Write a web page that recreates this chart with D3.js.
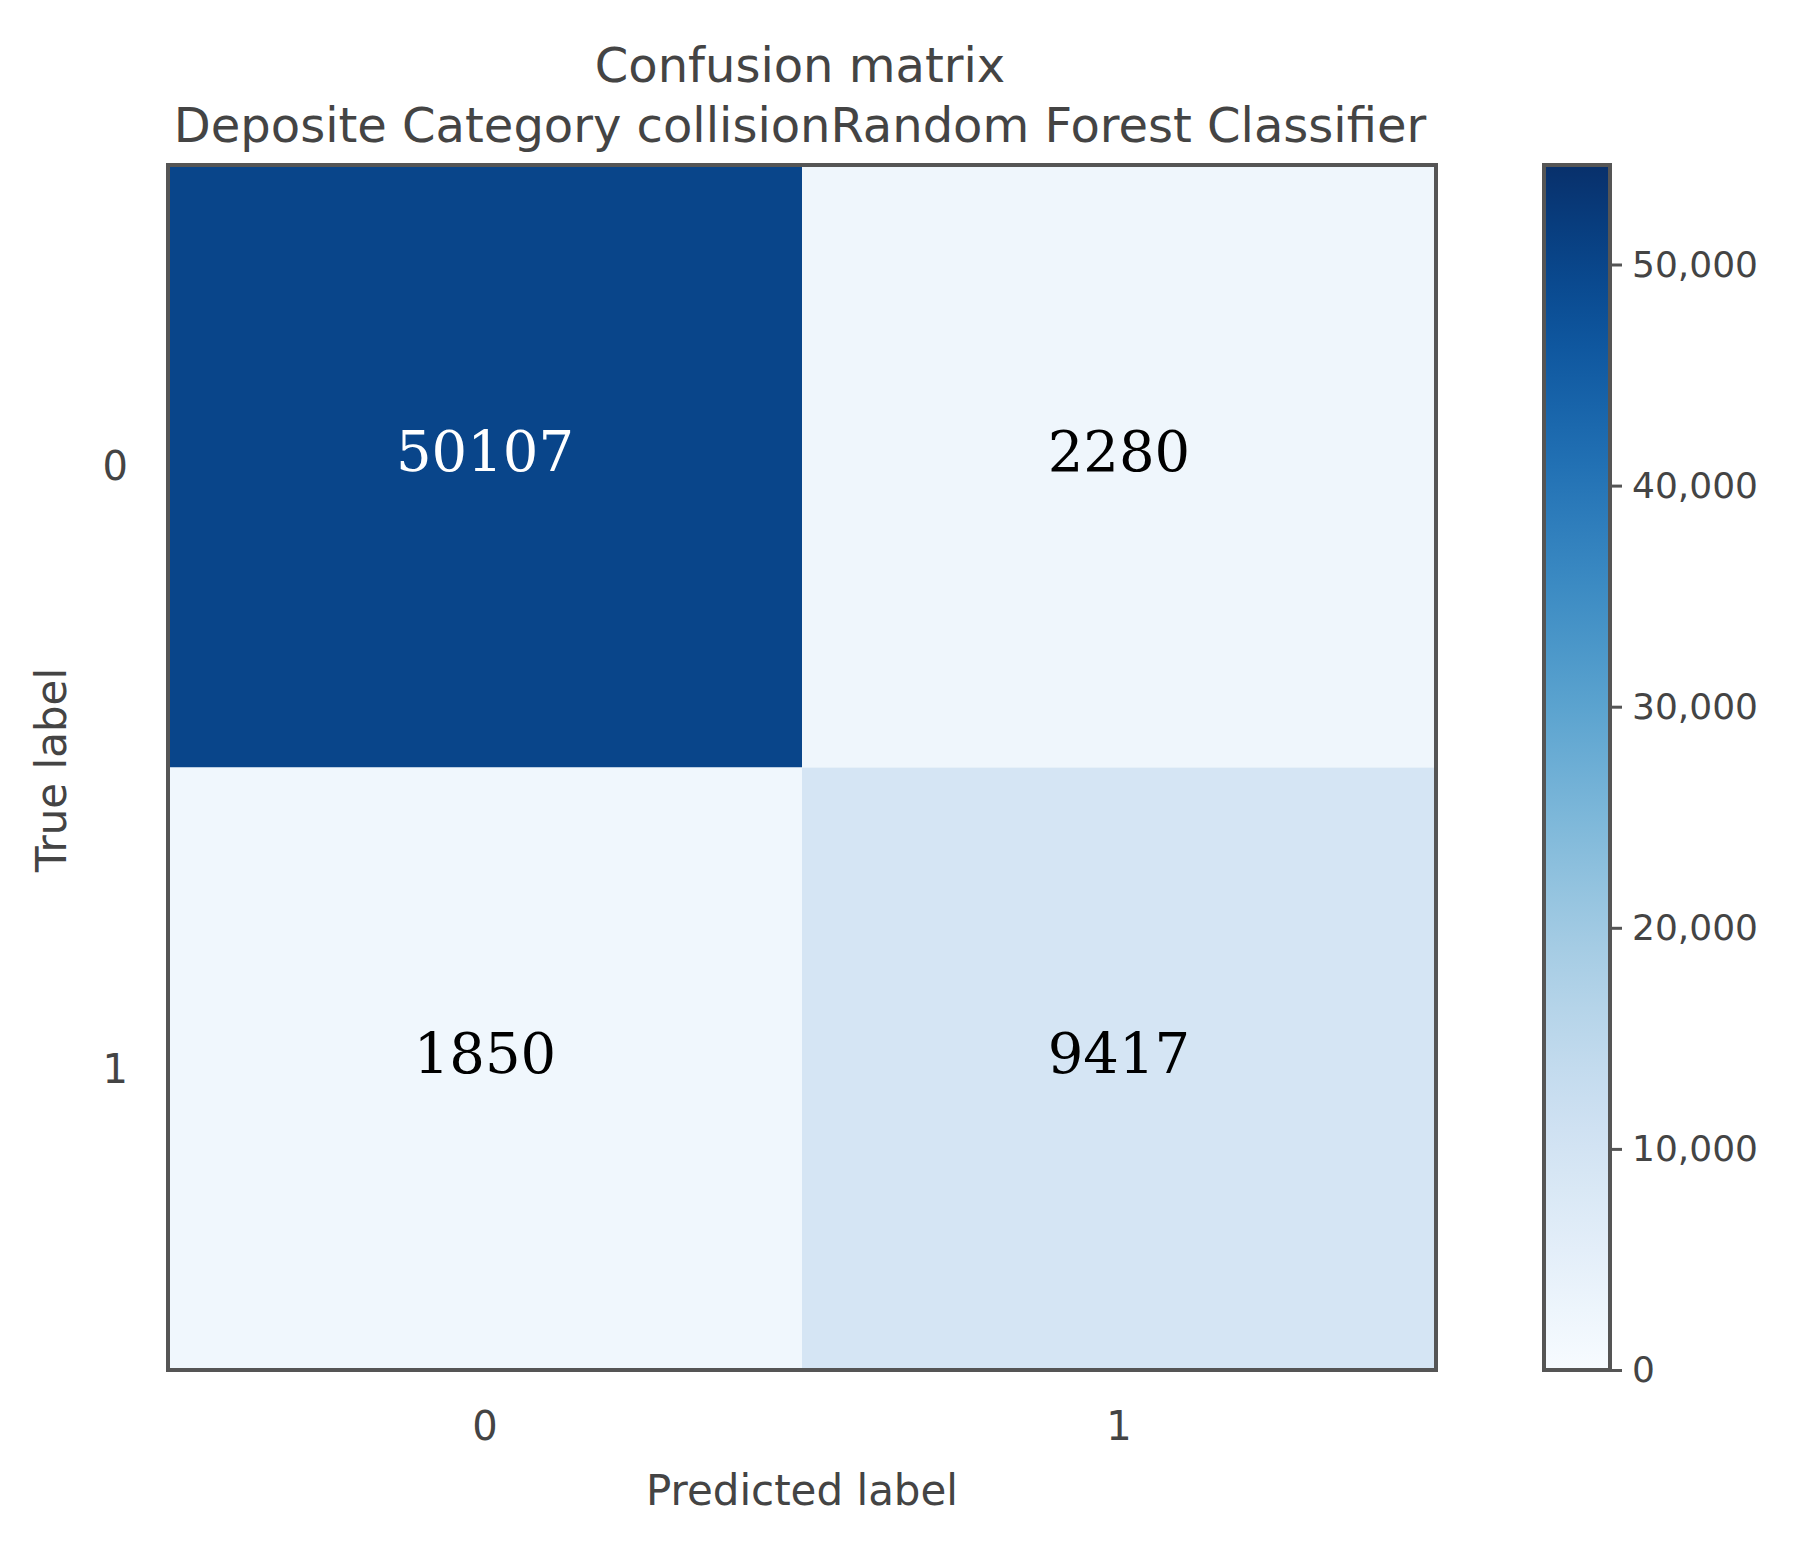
<!DOCTYPE html>
<html>
<head>
<meta charset="utf-8">
<script src="https://cdn.jsdelivr.net/npm/d3@7"></script>
<style>
  body { margin: 0; background: #fff; }
  text { font-family: "DejaVu Sans", sans-serif; }
</style>
</head>
<body>
<div id="chart"></div>
<script>
const classes = ["0", "1"];
const matrix = [[50107, 2280], [1850, 9417]];
const cbarTicks = [0, 10000, 20000, 30000, 40000, 50000];
const cbarMax = 54500;

const width = 1816, height = 1558;
const plot = { left: 168, right: 1436, top: 165, bottom: 1370 };

const svg = d3.select("#chart").append("svg")
  .attr("width", width)
  .attr("height", height);

const color = d3.scaleSequential(d3.interpolateBlues).domain([0, cbarMax]);

const x = d3.scaleBand().domain(classes).range([plot.left, plot.right]);
const y = d3.scaleBand().domain(classes).range([plot.top, plot.bottom]);

// cells
const cells = [];
matrix.forEach((row, i) => row.forEach((v, j) => cells.push({ r: classes[i], c: classes[j], v })));

svg.selectAll("rect.cell")
  .data(cells)
  .join("rect")
  .attr("class", "cell")
  .attr("x", d => x(d.c))
  .attr("y", d => y(d.r))
  .attr("width", x.bandwidth())
  .attr("height", y.bandwidth())
  .attr("fill", d => color(d.v));

svg.selectAll("text.val")
  .data(cells)
  .join("text")
  .attr("class", "val")
  .attr("x", d => x(d.c) + x.bandwidth() / 2)
  .attr("y", d => y(d.r) + y.bandwidth() / 2 - 10)
  .attr("text-anchor", "middle")
  .attr("dominant-baseline", "middle")
  .style("font-family", "'DejaVu Serif', serif")
  .style("font-size", "56px")
  .attr("fill", d => d.v > cbarMax / 2 ? "#fff" : "#000")
  .text(d => d.v);

// frame
svg.append("rect")
  .attr("x", plot.left).attr("y", plot.top)
  .attr("width", plot.right - plot.left).attr("height", plot.bottom - plot.top)
  .attr("fill", "none").attr("stroke", "#555").attr("stroke-width", 4);

// tick labels
svg.selectAll("text.xt")
  .data(classes)
  .join("text")
  .attr("class", "xt")
  .attr("x", d => x(d) + x.bandwidth() / 2)
  .attr("y", 1440)
  .attr("text-anchor", "middle")
  .attr("fill", "#444").style("font-size", "40px")
  .text(d => d);

svg.selectAll("text.yt")
  .data(classes)
  .join("text")
  .attr("class", "yt")
  .attr("x", 128)
  .attr("y", d => y(d) + y.bandwidth() / 2 + 14)
  .attr("text-anchor", "end")
  .attr("fill", "#444").style("font-size", "40px")
  .text(d => d);

svg.append("text")
  .attr("x", (plot.left + plot.right) / 2).attr("y", 1505)
  .attr("text-anchor", "middle").attr("fill", "#444").style("font-size", "42px")
  .text("Predicted label");

svg.append("text")
  .attr("transform", "translate(66, 770) rotate(-90)")
  .attr("text-anchor", "middle").attr("fill", "#444").style("font-size", "42px")
  .text("True label");

// titles
svg.append("text")
  .attr("x", 800).attr("y", 82)
  .attr("text-anchor", "middle").attr("fill", "#444").style("font-size", "48px")
  .text("Confusion matrix");
svg.append("text")
  .attr("x", 800).attr("y", 142)
  .attr("text-anchor", "middle").attr("fill", "#444").style("font-size", "48px")
  .text("Deposite Category collisionRandom Forest Classifier");

// colorbar
const cb = { x: 1544, w: 66 };
const cy = d3.scaleLinear().domain([0, cbarMax]).range([plot.bottom, plot.top]);
const defs = svg.append("defs");
const grad = defs.append("linearGradient").attr("id", "cbg")
  .attr("x1", 0).attr("y1", 1).attr("x2", 0).attr("y2", 0);
d3.range(0, 1.01, 0.05).forEach(t => {
  grad.append("stop").attr("offset", t).attr("stop-color", d3.interpolateBlues(t));
});
svg.append("rect")
  .attr("x", cb.x).attr("y", plot.top)
  .attr("width", cb.w).attr("height", plot.bottom - plot.top)
  .attr("fill", "url(#cbg)").attr("stroke", "#555").attr("stroke-width", 4);

const cAxis = svg.append("g")
  .attr("transform", `translate(${cb.x + cb.w},0)`)
  .call(d3.axisRight(cy).tickValues(cbarTicks).tickSize(12).tickPadding(10));
cAxis.select(".domain").remove();
cAxis.selectAll("line").attr("stroke", "#555").attr("stroke-width", 3);
cAxis.selectAll("text").attr("fill", "#444").style("font-size", "36px")
  .style("font-family", "'DejaVu Sans', sans-serif");
</script>
</body>
</html>
